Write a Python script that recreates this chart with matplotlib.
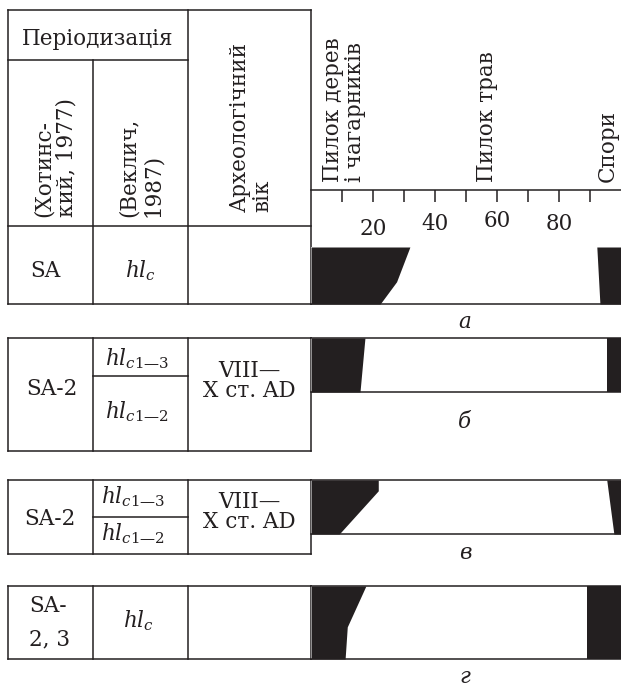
import matplotlib
matplotlib.use("Agg")
import matplotlib.pyplot as plt

# ---------------- data ----------------
scale_ticks = [10, 20, 30, 40, 50, 60, 70, 80, 90]
scale_labels = [20, 40, 60, 80]
taxa = ["Пилок дерев\nі чагарників", "Пилок трав", "Спори"]
taxa_at = [10.5, 56.8, 95.8]

panel_letters = ["а", "б", "в", "г"]
khotinsky = ["SA", "SA-2", "SA-2", "SA-\n2, 3"]
veklich = [[r"$hl_c$"],
           [r"$hl_{c1—3}$", r"$hl_{c1—2}$"],
           [r"$hl_{c1—3}$", r"$hl_{c1—2}$"],
           [r"$hl_c$"]]
arch_age = [None, "VIII—\nX ст. AD", "VIII—\nX ст. AD", None]

# depth inside layer (0 = top, 1 = bottom); trees+shrubs pollen (%), spores (%)
a_depth_trees = [0.0, 0.61, 1.0]
a_trees = [31.9, 27.6, 22.3]
a_depth_spores = [0.0, 1.0]
a_spores = [7.8, 6.8]

b_depth_trees = [0.0, 1.0]
b_trees = [17.4, 15.8]
b_depth_spores = [0.0, 1.0]
b_spores = [4.4, 4.4]

v_depth_trees = [0.0, 0.2, 1.0]
v_trees = [21.7, 21.7, 9.1]
v_depth_spores = [0.0, 1.0]
v_spores = [4.6, 2.3]

g_depth_trees = [0.0, 0.56, 1.0]
g_trees = [17.7, 11.7, 11.0]
g_depth_spores = [0.0, 1.0]
g_spores = [10.9, 10.9]

profiles = [
    (a_depth_trees, a_trees, a_depth_spores, a_spores),
    (b_depth_trees, b_trees, b_depth_spores, b_spores),
    (v_depth_trees, v_trees, v_depth_spores, v_spores),
    (g_depth_trees, g_trees, g_depth_spores, g_spores),
]

# ---------------- layout (pixels) ----------------
W, H = 621, 687
INK = "#231f20"
LW = 1.1
FS = 15.5
SERIF = "DejaVu Serif"
plt.rcParams["font.family"] = [SERIF]
plt.rcParams["mathtext.fontset"] = "dejavuserif"

X0, C1, C2, C3, XR = 8, 93, 188, 311, 621

fig = plt.figure(figsize=(W / 100, H / 100), dpi=100)
bg = fig.add_axes([0, 0, 1, 1])
bg.set_xlim(0, W)
bg.set_ylim(H, 0)
bg.axis("off")


def rect(x0, y0, x1, y1):
    return [x0 / W, 1 - y1 / H, (x1 - x0) / W, (y1 - y0) / H]


def hline(y, x0, x1, lw=LW):
    bg.plot([x0, x1], [y, y], color=INK, lw=lw, solid_capstyle="projecting")


def vline(x, y0, y1, lw=LW):
    bg.plot([x, x], [y0, y1], color=INK, lw=lw, solid_capstyle="projecting")


def txt(x, y, s, **kw):
    kw.setdefault("ha", "center")
    kw.setdefault("va", "baseline")
    kw.setdefault("fontsize", FS)
    kw.setdefault("color", INK)
    bg.text(x, y, s, **kw)


# ---------- header of panel a ----------
hline(10, X0, C3)
hline(60, X0, C2)
hline(226, X0, C3)
hline(304, X0, C3)
vline(X0, 10, 304)
vline(C1, 60, 304)
vline(C2, 10, 304)
vline(C3, 10, 304)
hline(190, C3, XR)

txt(98, 45, "Періодизація")
txt(55, 217, "(Хотинс-\nкий, 1977)", rotation=90, va="bottom", multialignment="left", linespacing=1.05)
txt(141, 217, "(Веклич,\n1987)", rotation=90, va="bottom", multialignment="left", linespacing=1.15)
txt(251, 212, "Археологічний\nвік", rotation=90, va="bottom", multialignment="left", linespacing=1.05)

# scale axis
sc = fig.add_axes(rect(C3, 190, XR, 247))
sc.set_xlim(0, 100)
sc.set_ylim(0, 1)
for s in ["left", "right", "bottom", "top"]:
    sc.spines[s].set_visible(False)
sc.xaxis.set_ticks_position("top")
sc.set_xticks(scale_ticks)
sc.tick_params(axis="x", direction="in", length=8.6, width=LW, color=INK,
               labeltop=False, labelbottom=False)
sc.set_yticks([])
sc.patch.set_alpha(0)
label_y = [0.32, 0.41, 0.46, 0.40]
for v, yy in zip(scale_labels, label_y):
    sc.text(v, yy, str(v), ha="center", va="center", fontsize=FS, color=INK,
            transform=sc.get_xaxis_transform())
for name, v in zip(taxa, taxa_at):
    txt(C3 + v * (XR - C3) / 100, 182, name, rotation=90, va="bottom",
        multialignment="left", linespacing=1.0)

# ---------- panels ----------
panels = [
    dict(top=247, bar_bot=304, tab_top=None, tab_bot=304, div=None, letter_y=322,
         top_line=False),
    dict(top=338, bar_bot=392, tab_top=338, tab_bot=451, div=376, letter_y=422,
         top_line=True),
    dict(top=480, bar_bot=534, tab_top=480, tab_bot=554, div=517, letter_y=553,
         top_line=True),
    dict(top=586, bar_bot=659, tab_top=586, tab_bot=659, div=None, letter_y=677,
         top_line=True),
]

for i, p in enumerate(panels):
    if p["tab_top"] is not None:
        hline(p["tab_top"], X0, C3)
        hline(p["tab_bot"], X0, C3)
        for x in (X0, C1, C2, C3):
            vline(x, p["tab_top"], p["tab_bot"])
        if p["div"] is not None:
            hline(p["div"], C1, C2)

    ax = fig.add_axes(rect(C3, p["top"], XR, p["bar_bot"]))
    ax.set_xlim(0, 100)
    ax.set_ylim(1, 0)
    ax.set_xticks([])
    ax.set_yticks([])
    for s in ["left", "right"]:
        ax.spines[s].set_visible(False)
    ax.spines["top"].set_visible(p["top_line"])
    for s in ["top", "bottom"]:
        ax.spines[s].set_color(INK)
        ax.spines[s].set_linewidth(LW)
    dt, tr, ds, sp = profiles[i]
    ax.fill_betweenx(dt, 0, tr, color=INK, lw=0)
    ax.fill_betweenx(ds, [100 - s for s in sp], 100, color=INK, lw=0)

    txt(465, p["letter_y"], panel_letters[i], va="center", style="italic")

# texts in table cells
txt(45, 277, khotinsky[0])
txt(140, 277, veklich[0][0])

txt(52, 395, khotinsky[1])
txt(137, 365, veklich[1][0])
txt(137, 418, veklich[1][1])
txt(249, 381, arch_age[1], va="center", multialignment="center", linespacing=0.85)

txt(50, 525, khotinsky[2])
txt(133, 503, veklich[2][0])
txt(133, 540, veklich[2][1])
txt(249, 512, arch_age[2], va="center", multialignment="center", linespacing=0.85)

k1, k2 = khotinsky[3].split("\n")
txt(48, 612, k1)
txt(50, 645, k2)
txt(138, 627, veklich[3][0])

fig.savefig("out.png", dpi=100)
